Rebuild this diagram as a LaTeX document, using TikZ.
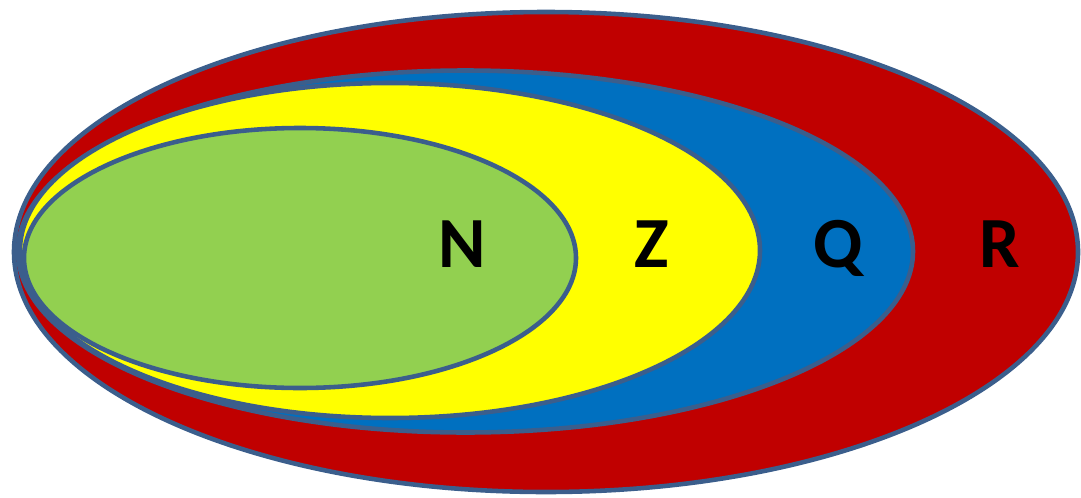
\documentclass[tikz,border=0pt]{standalone}
\usepackage{fontspec}
\setmainfont{Carlito}
\definecolor{setred}{HTML}{C00000}
\definecolor{setblue}{HTML}{0070C0}
\definecolor{setyellow}{HTML}{FFFF00}
\definecolor{setgreen}{HTML}{92D050}
\definecolor{setline}{HTML}{3B5E8C}
\begin{document}
\begin{tikzpicture}[
        x=0.02cm, y=-0.02cm,
        numset/.style={draw=setline, line width=2.6pt},
        setname/.style={anchor=base, font=\fontsize{41}{41}\selectfont\bfseries, text=black, inner sep=0pt}
    ]
\useasboundingbox (0,0) rectangle (1081,497);

% real numbers, rationals, integers, naturals
\draw[numset,fill=setred] (546,252) ellipse [x radius=532, y radius=240];
\draw[numset,fill=setblue] (465.5,251.5) ellipse [x radius=447.5, y radius=181];
\draw[numset,fill=setyellow] (390,250.5) ellipse [x radius=370, y radius=167.5];
\draw[numset,fill=setgreen] (300,258) ellipse [x radius=276, y radius=130];

\node[setname] (N) at (462,267) {N};
\node[setname] (Z) at (652,267) {Z};
\node[setname] (Q) at (838,267) {Q};
\node[setname] (R) at (1000,267) {R};

\end{tikzpicture}
\end{document}
